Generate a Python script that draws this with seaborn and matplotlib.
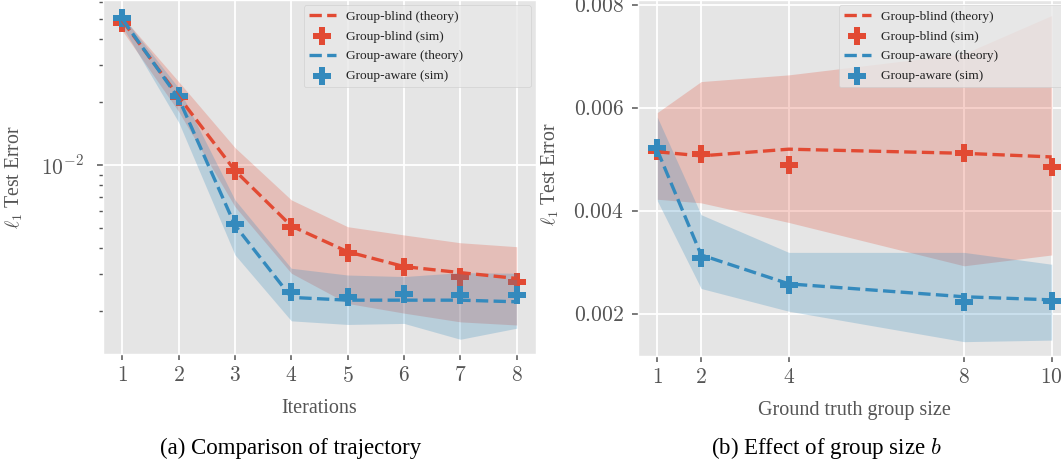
import numpy as np
import matplotlib
matplotlib.use("Agg")
import matplotlib.pyplot as plt
import seaborn as sns
from matplotlib.ticker import FuncFormatter, NullFormatter

# Daten (a): Verlauf ueber die Iterationen
iters = [1, 2, 3, 4, 5, 6, 7, 8]
blind_theory_a = [0.0490, 0.0212, 0.0094, 0.00511, 0.00385, 0.00327, 0.00306, 0.00287]
blind_sim_a = [0.0479, 0.0212, 0.00939, 0.00504, 0.00379, 0.00325, 0.00291, 0.00277]
blind_hi_a = [0.0511, 0.0250, 0.0121, 0.00681, 0.00507, 0.00463, 0.00425, 0.00407]
blind_lo_a = [0.0438, 0.0180, 0.00632, 0.00304, 0.00218, 0.00196, 0.00178, 0.00172]
aware_theory_a = [0.0498, 0.0208, 0.00515, 0.00233, 0.00226, 0.00226, 0.00226, 0.00222]
aware_sim_a = [0.0502, 0.0214, 0.00523, 0.00248, 0.00235, 0.00242, 0.00238, 0.00239]
aware_hi_a = [0.0515, 0.0233, 0.00681, 0.00321, 0.00298, 0.00293, 0.00306, 0.00304]
aware_lo_a = [0.0458, 0.0160, 0.00372, 0.00180, 0.00173, 0.00175, 0.00147, 0.00166]

# Daten (b): Einfluss der Gruppengroesse
group_sizes = [1, 2, 4, 8, 10]
blind_theory_b = [0.00515, 0.00507, 0.00520, 0.00512, 0.00505]
blind_sim_b = [0.00517, 0.00510, 0.00489, 0.00513, 0.00485]
blind_hi_b = [0.00591, 0.00651, 0.00664, 0.00705, 0.00779]
blind_lo_b = [0.00423, 0.00416, 0.00378, 0.00294, 0.00315]
aware_theory_b = [0.00518, 0.00315, 0.00259, 0.00234, 0.00228]
aware_sim_b = [0.00522, 0.00309, 0.00257, 0.00224, 0.00226]
aware_hi_b = [0.00582, 0.00393, 0.00320, 0.00320, 0.00297]
aware_lo_b = [0.00420, 0.00250, 0.00206, 0.00147, 0.00150]

RED = "#E24A33"
BLUE = "#348ABD"
GREY = "#555555"
# Leerraum rechts in der Legende (wie im Original)
PAD = "\u2003" * 5

plt.style.use("ggplot")
plt.rcParams["font.family"] = ["Liberation Serif", "DejaVu Serif"]
plt.rcParams["mathtext.fontset"] = "cm"


def panel(ax, x, bt, bs, blo, bhi, at, asim, alo, ahi):
    """Zeichnet beide Verfahren (Theorie, Simulation, Band) in eine Achse"""
    sns.lineplot(x=x, y=bt, ax=ax, color=RED, linestyle="--", linewidth=2.4,
                 label="Group-blind (theory)" + PAD, errorbar=None)
    ax.fill_between(x, blo, bhi, color=RED, alpha=0.25, linewidth=0)
    sns.scatterplot(x=x, y=bs, ax=ax, color=RED, marker="P", s=160,
                    linewidth=0, label="Group-blind (sim)")
    sns.lineplot(x=x, y=at, ax=ax, color=BLUE, linestyle="--", linewidth=2.4,
                 label="Group-aware (theory)", errorbar=None)
    ax.fill_between(x, alo, ahi, color=BLUE, alpha=0.25, linewidth=0)
    sns.scatterplot(x=x, y=asim, ax=ax, color=BLUE, marker="P", s=160,
                    linewidth=0, label="Group-aware (sim)")
    ax.grid(True, which="major", color="white", linewidth=1.3)
    ax.tick_params(which="major", length=4.5, width=1.1, color=GREY,
                   labelcolor=GREY, labelsize=15.5)
    ax.tick_params(which="minor", length=3, width=1.0, color=GREY)
    ax.tick_params(axis="x", pad=5)
    ax.set_xticks(x)
    ax.xaxis.set_major_formatter(FuncFormatter(lambda v, p: "$%d$" % round(v)))
    ax.set_ylabel(r"$\ell_1$ Test Error", fontsize=14.2, color=GREY)
    leg = ax.legend(loc="upper right", fontsize=9.6, facecolor="#E8E8E8",
                    edgecolor="#CCCCCC", framealpha=0.8, labelspacing=0.55,
                    borderaxespad=0.4)
    for t in leg.get_texts():
        t.set_color("#222222")


fig = plt.figure(figsize=(10.61, 4.67), dpi=100)
W, H = 1061.0, 467.0

# (a)
ax1 = fig.add_axes([102.6 / W, 113 / H, 433.8 / W, 354 / H])
ax1.set_yscale("log")
panel(ax1, iters, blind_theory_a, blind_sim_a, blind_lo_a, blind_hi_a,
      aware_theory_a, aware_sim_a, aware_lo_a, aware_hi_a)
ax1.set_xlim(0.65, 8.35)
ax1.set_ylim(0.00125, 0.0614)
ax1.yaxis.set_major_formatter(
    FuncFormatter(lambda v, p: "$10^{%d}$" % round(np.log10(v))))
ax1.yaxis.set_minor_formatter(NullFormatter())
ax1.tick_params(axis="y", pad=9)
ax1.set_xlabel("Iterations", fontsize=14.5, color=GREY)
ax1.xaxis.set_label_coords(0.5, -0.128)
ax1.yaxis.set_label_coords(-0.18, 0.5)

# (b)
ax2 = fig.add_axes([637.6 / W, 111 / H, 433.8 / W, 356 / H])
panel(ax2, group_sizes, blind_theory_b, blind_sim_b, blind_lo_b, blind_hi_b,
      aware_theory_b, aware_sim_b, aware_lo_b, aware_hi_b)
ax2.set_xlim(0.55, 10.45)
ax2.set_ylim(0.001192, 0.008091)
ax2.set_yticks([0.002, 0.004, 0.006, 0.008])
ax2.yaxis.set_major_formatter(FuncFormatter(lambda v, p: "$%.3f$" % v))
ax2.tick_params(axis="y", pad=5.5)
ax2.set_xlabel("Ground truth group size", fontsize=14.5, color=GREY)
ax2.xaxis.set_label_coords(0.5, -0.127)
ax2.yaxis.set_label_coords(-0.176, 0.51)

# Bildunterschriften
fig.text(291 / W, 1 - 448 / H, "(a) Comparison of trajectory",
         ha="center", va="center", fontsize=16.5, color="black")
fig.text(826 / W, 1 - 448 / H, "(b) Effect of group size $b$",
         ha="center", va="center", fontsize=16.5, color="black")

fig.savefig("out.png", dpi=100)
